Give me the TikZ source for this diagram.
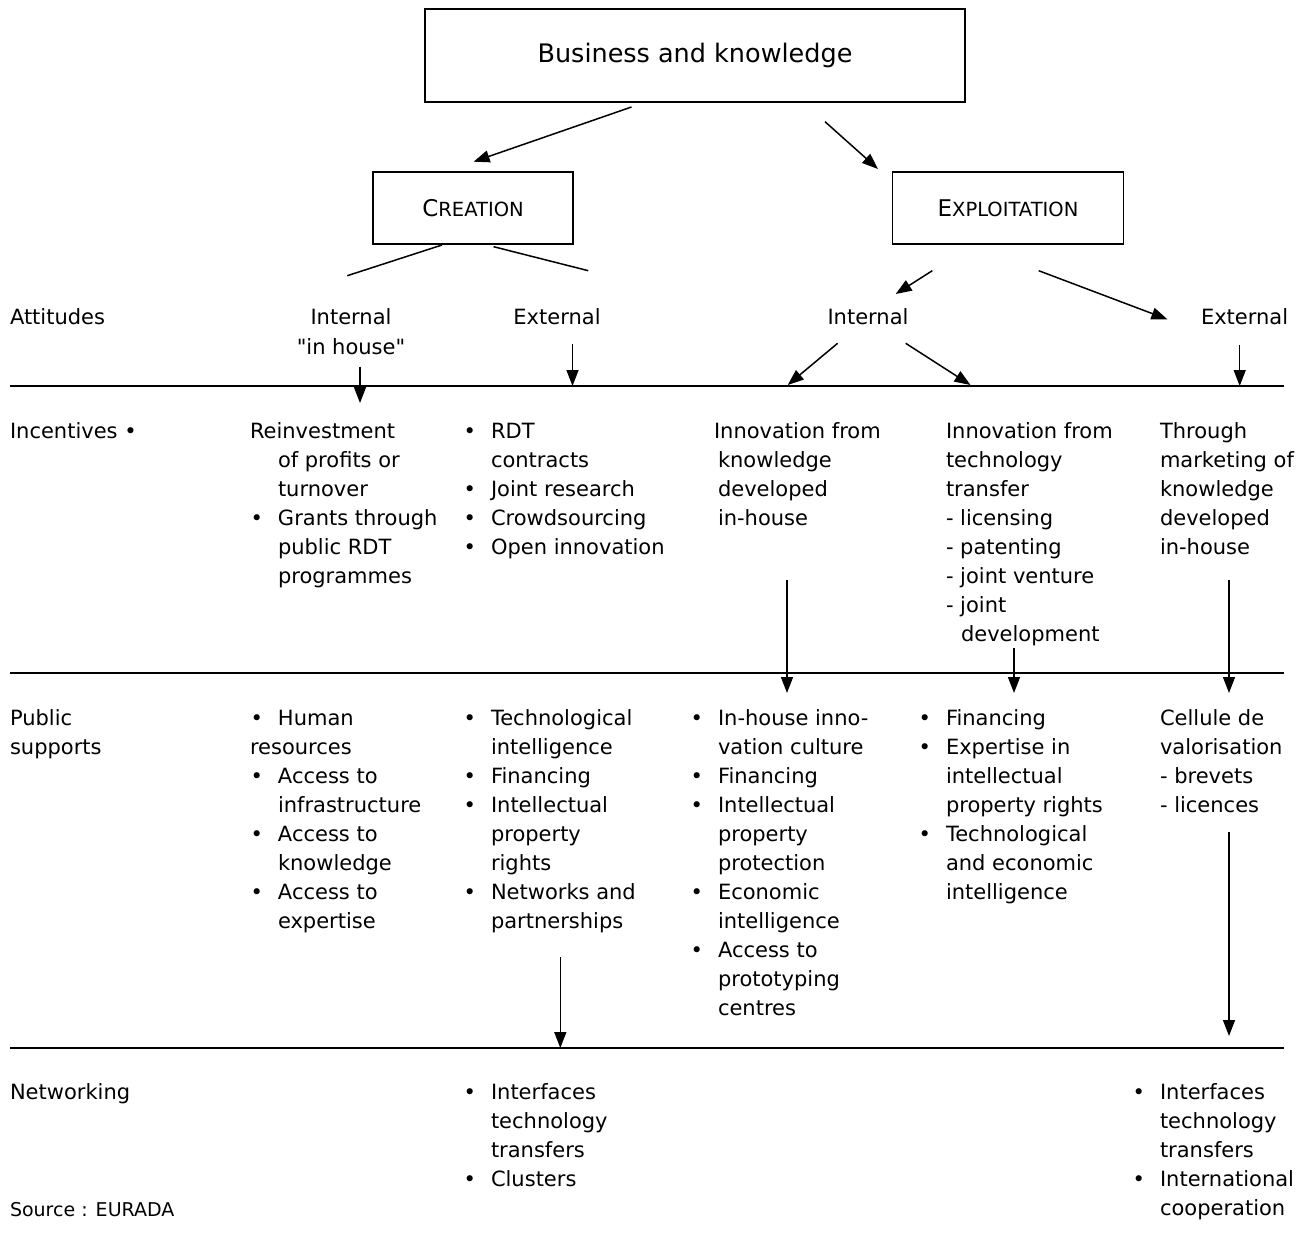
\documentclass[tikz,border=0pt]{standalone}
\usepackage{fontspec}
\setmainfont{DejaVu Sans}
% same face without TeX ligature mapping, for straight quotes
\newfontfamily\plainfont{DejaVu Sans}
\usetikzlibrary{arrows.meta}
% bullet hung to the left of the item text
\newcommand\itembul{\llap{•\hspace{15pt}}}
% indentation of continuation lines in the first column
\newcommand\indt{\hspace*{28pt}}
% faked small capitals: first letter large, rest smaller
\newcommand\fakesc[2]{#1{\fontsize{19.5}{24}\selectfont #2}}
% straight double quote
\newcommand\sq{{\plainfont"}}

\begin{document}
\begin{tikzpicture}[x=1pt,y=-1pt,
  every node/.style={inner sep=0pt, outer sep=0pt},
  body/.style={font=\fontsize{21}{29}\selectfont, anchor=north west, align=left},
  cbody/.style={font=\fontsize{21}{29}\selectfont, anchor=north, align=center},
  box/.style={draw, line width=1.8pt},
  conn/.style={line width=1.5pt},
  arr/.style={conn, -{Triangle[length=16pt,width=12pt]}},
  rule/.style={line width=1.5pt}]

\useasboundingbox[fill=white] (0,0) rectangle (1304,1241);

% ---- boxes ----
\node[box, minimum width=540pt, minimum height=93pt,
      font=\fontsize{25.5}{30}\selectfont] (title) at (695,55.5) {Business and knowledge};
\node[box, minimum width=200pt, minimum height=72pt,
      font=\fontsize{23}{28}\selectfont] (creation) at (473,208) {\fakesc{C}{REATION}};
\node[box, minimum width=231pt, minimum height=72pt,
      font=\fontsize{23}{28}\selectfont] (exploit) at (1008,208) {\fakesc{E}{XPLOITATION}};

% ---- attitudes row ----
\node[body] (attitudes) at (10,304.7) {\strut Attitudes};
\node[cbody] (cint) at (351,304.7) {\strut Internal\\\sq in house\sq};
\node[cbody] (cext) at (557,304.7) {\strut External};
\node[cbody] (eint) at (868,304.7) {\strut Internal};
\node[body] (eext) at (1201,304.7) {\strut External};

% ---- incentives row ----
\node[body] (incentives) at (10,417.7) {\strut Incentives •};
\node[body] (inc1) at (250,417.7) {\strut Reinvestment\\
  \indt of profits or\\ \indt turnover\\ \indt\itembul Grants through\\
  \indt public RDT\\ \indt programmes};
\node[body] (inc2) at (491,417.7) {\strut\itembul RDT\\ contracts\\
  \itembul Joint research\\ \itembul Crowdsourcing\\ \itembul Open innovation};
\node[body] (inc3) at (714,417.7) {\strut Innovation from\\
  \hspace*{4pt}knowledge\\ \hspace*{4pt}developed\\ \hspace*{4pt}in-house};
\node[body] (inc4) at (946,417.7) {\strut Innovation from\\ technology\\ transfer\\
  - licensing\\ - patenting\\ - joint venture\\ - joint\\ \hspace*{15pt}development};
\node[body] (inc5) at (1160,417.7) {\strut Through\\ marketing of\\ knowledge\\
  developed\\ in-house};

% ---- public supports row ----
\node[body] (public) at (10,704.7) {\strut Public\\ supports};
\node[body] (pub1) at (250,704.7) {\strut\indt\itembul Human\\ resources\\
  \indt\itembul Access to\\ \indt infrastructure\\ \indt\itembul Access to\\
  \indt knowledge\\ \indt\itembul Access to\\ \indt expertise};
\node[body] (pub2) at (491,704.7) {\strut\itembul Technological\\ intelligence\\
  \itembul Financing\\ \itembul Intellectual\\ property\\ rights\\
  \itembul Networks and\\ partnerships};
\node[body] (pub3) at (718,704.7) {\strut\itembul In-house inno-\\ vation culture\\
  \itembul Financing\\ \itembul Intellectual\\ property\\ protection\\
  \itembul Economic\\ intelligence\\ \itembul Access to\\ prototyping\\ centres};
\node[body] (pub4) at (946,704.7) {\strut\itembul Financing\\ \itembul Expertise in\\
  intellectual\\ property rights\\ \itembul Technological\\ and economic\\ intelligence};
\node[body] (pub5) at (1160,704.7) {\strut Cellule de\\ valorisation\\ - brevets\\ - licences};

% ---- networking row ----
\node[body] (networking) at (10,1078.7) {\strut Networking};
\node[body] (net2) at (491,1078.7) {\strut\itembul Interfaces\\ technology\\ transfers\\
  \itembul Clusters};
\node[body] (net5) at (1160,1078.7) {\strut\itembul Interfaces\\ technology\\ transfers\\
  \itembul International\\ cooperation};
\node[anchor=base west, font=\fontsize{19}{24}\selectfont] (source) at (10,1216) {Source : EURADA};

% ---- separating rules ----
\coordinate (r1w) at (10,386);  \coordinate (r1e) at (1284,386);
\coordinate (r2w) at (10,673);  \coordinate (r2e) at (1284,673);
\coordinate (r3w) at (10,1048); \coordinate (r3e) at (1284,1048);
\draw[rule] (r1w) -- (r1e);
\draw[rule] (r2w) -- (r2e);
\draw[rule] (r3w) -- (r3e);

% ---- connector end points ----
\coordinate (tA) at (631.5,107);   \coordinate (tAe) at (473.6,161.7);
\coordinate (tB) at (825,121.7);   \coordinate (tBe) at (878,169);
\coordinate (cL) at (442,245);     \coordinate (cLe) at (347.3,275.7);
\coordinate (cR) at (493.6,246.7); \coordinate (cRe) at (588.3,270.7);
\coordinate (eL) at (932.3,270.7); \coordinate (eLe) at (895.7,294);
\coordinate (eR) at (1038.7,270.7);\coordinate (eRe) at (1167.4,319.3);
\coordinate (ci) at (360,366.7);   \coordinate (cie) at (360,403);
\coordinate (ce) at (572.5,344);   \coordinate (cee) at (572.5,386);
\coordinate (ei1) at (837.6,343.3);\coordinate (ei1e) at (787.7,385);
\coordinate (ei2) at (905.7,343.3);\coordinate (ei2e) at (970.5,385);
\coordinate (ee) at (1239.7,345);  \coordinate (eee) at (1239.7,386);
\coordinate (i3) at (787,580);     \coordinate (i3e) at (787,693);
\coordinate (i4) at (1014,648);    \coordinate (i4e) at (1014,693);
\coordinate (i5) at (1229,580);    \coordinate (i5e) at (1229,693);
\coordinate (p2) at (560.3,957);   \coordinate (p2e) at (560.3,1048);
\coordinate (p5) at (1229,832);    \coordinate (p5e) at (1229,1036);

% ---- connectors ----
\draw[arr] (tA) -- (tAe);
\draw[arr] (tB) -- (tBe);
\draw[conn] (cL) -- (cLe);
\draw[conn] (cR) -- (cRe);
\draw[arr] (eL) -- (eLe);
\draw[arr] (eR) -- (eRe);
\draw[arr] (ci) -- (cie);
\draw[arr] (ce) -- (cee);
\draw[arr] (ei1) -- (ei1e);
\draw[arr] (ei2) -- (ei2e);
\draw[arr] (ee) -- (eee);
\draw[arr] (i3) -- (i3e);
\draw[arr] (i4) -- (i4e);
\draw[arr] (i5) -- (i5e);
\draw[arr] (p2) -- (p2e);
\draw[arr] (p5) -- (p5e);
\end{tikzpicture}
\end{document}
